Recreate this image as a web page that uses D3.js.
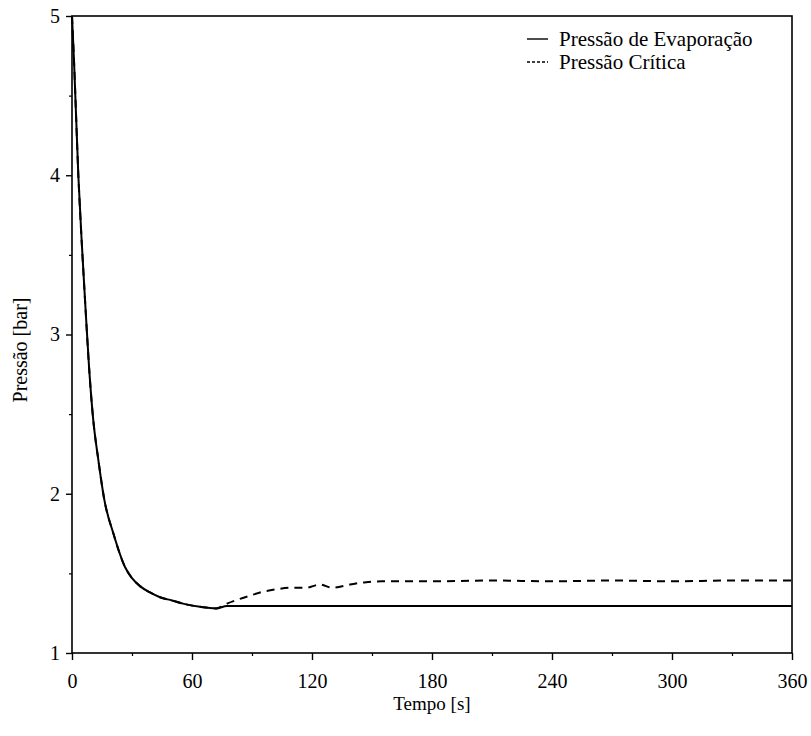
<!DOCTYPE html>
<html>
<head>
<meta charset="utf-8">
<script src="https://cdn.jsdelivr.net/npm/d3@7"></script>
<style>
  html, body { margin: 0; padding: 0; background: #fff; }
  svg { display: block; }
  svg text { font-family: "Liberation Serif", "DejaVu Serif", serif !important; fill: #000; }
</style>
</head>
<body>
<svg id="chart" width="811" height="736"></svg>
<script>
// Time [s] and pressure [bar] for the evaporator pressure
const evapTime  = [0, 1, 3.2, 5, 6.5, 8.5, 10.5, 13.2, 16.2, 20.7, 26.5, 30, 34, 39, 44, 50, 55.5, 64, 72, 77.5, 90, 120, 180, 240, 300, 360];
const evapPress = [5.0, 4.72, 3.99, 3.55, 3.22, 2.80, 2.48, 2.21, 1.96, 1.75, 1.54, 1.47, 1.42, 1.38, 1.35, 1.33, 1.31, 1.29, 1.28, 1.295, 1.295, 1.295, 1.295, 1.295, 1.295, 1.295];

// Time [s] and pressure [bar] for the critical pressure (follows the evaporator curve until ~75 s)
const critTime  = [0, 1, 3.2, 5, 6.5, 8.5, 10.5, 13.2, 16.2, 20.7, 26.5, 30, 34, 39, 44, 50, 55.5, 64, 72, 77.5, 84, 89, 94, 102, 110, 117, 124, 130, 139, 147, 155, 180, 210, 240, 270, 300, 330, 360];
const critPress = [5.0, 4.72, 3.99, 3.55, 3.22, 2.80, 2.48, 2.21, 1.96, 1.75, 1.54, 1.47, 1.42, 1.38, 1.35, 1.33, 1.31, 1.29, 1.28, 1.31, 1.34, 1.36, 1.38, 1.40, 1.41, 1.41, 1.43, 1.41, 1.43, 1.445, 1.45, 1.45, 1.455, 1.45, 1.455, 1.45, 1.455, 1.455];

const xTicks = [0, 60, 120, 180, 240, 300, 360];
const xMinor = [30, 90, 150, 210, 270, 330];
const yTicks = [1, 2, 3, 4, 5];
const yMinor = [1.5, 2.5, 3.5, 4.5];

const seriesNames = ["Pressão de Evaporação", "Pressão Crítica"];

const svg = d3.select("#chart");
const plotL = 72, plotR = 792, plotT = 16, plotB = 653;

const x = d3.scaleLinear().domain([0, 360]).range([plotL, plotR]);
const y = d3.scaleLinear().domain([1, 5]).range([plotB, plotT]);

// Frame
svg.append("rect")
  .attr("x", plotL).attr("y", plotT)
  .attr("width", plotR - plotL).attr("height", plotB - plotT)
  .attr("fill", "none").attr("stroke", "#000").attr("stroke-width", 1.6);

// Bottom axis: major ticks with labels
const xAxis = d3.axisBottom(x).tickValues(xTicks).tickSize(7).tickPadding(14).tickFormat(d3.format("d"));
const gx = svg.append("g").attr("transform", `translate(0,${plotB})`).call(xAxis);
gx.attr("font-size", 20);
gx.select(".domain").remove();
gx.selectAll(".tick line").attr("stroke-width", 1.4);

// Bottom axis: minor ticks
const gxm = svg.append("g").attr("transform", `translate(0,${plotB})`)
  .call(d3.axisBottom(x).tickValues(xMinor).tickSize(3).tickFormat(""));
gxm.select(".domain").remove();
gxm.selectAll(".tick line").attr("stroke-width", 1.2);

// Left axis: major ticks with labels
const yAxis = d3.axisLeft(y).tickValues(yTicks).tickSize(6).tickPadding(6).tickFormat(d3.format("d"));
const gy = svg.append("g").attr("transform", `translate(${plotL},0)`).call(yAxis);
gy.attr("font-size", 20);
gy.select(".domain").remove();
gy.selectAll(".tick line").attr("stroke-width", 1.4);

// Left axis: minor ticks
const gym = svg.append("g").attr("transform", `translate(${plotL},0)`)
  .call(d3.axisLeft(y).tickValues(yMinor).tickSize(3).tickFormat(""));
gym.select(".domain").remove();
gym.selectAll(".tick line").attr("stroke-width", 1.2);

// Axis titles
svg.append("text")
  .attr("x", (plotL + plotR) / 2).attr("y", 710)
  .attr("text-anchor", "middle").attr("font-size", 19)
  .text("Tempo [s]");

svg.append("text")
  .attr("transform", `translate(27,350) rotate(-90)`)
  .attr("text-anchor", "middle").attr("font-size", 20)
  .text("Pressão [bar]");

// Curves
const line = d3.line().x(d => x(d[0])).y(d => y(d[1])).curve(d3.curveMonotoneX);

const critData = critTime.map((t, i) => [t, critPress[i]]);
const evapData = evapTime.map((t, i) => [t, evapPress[i]]);

svg.append("path")
  .datum(critData)
  .attr("d", line)
  .attr("fill", "none").attr("stroke", "#000")
  .attr("stroke-width", 2).attr("stroke-dasharray", "8,6");

svg.append("path")
  .datum(evapData)
  .attr("d", line)
  .attr("fill", "none").attr("stroke", "#000")
  .attr("stroke-width", 2);

// Legend
const legend = svg.append("g").attr("font-size", 21);
const legendRows = [
  { name: seriesNames[0], dash: null, yPos: 39 },
  { name: seriesNames[1], dash: "3,2", yPos: 62 }
];
legendRows.forEach(r => {
  legend.append("line")
    .attr("x1", 527).attr("x2", 548)
    .attr("y1", r.yPos).attr("y2", r.yPos)
    .attr("stroke", "#000").attr("stroke-width", 1.4)
    .attr("stroke-dasharray", r.dash);
  legend.append("text")
    .attr("x", 559).attr("y", r.yPos + 7)
    .text(r.name);
});
</script>
</body>
</html>
